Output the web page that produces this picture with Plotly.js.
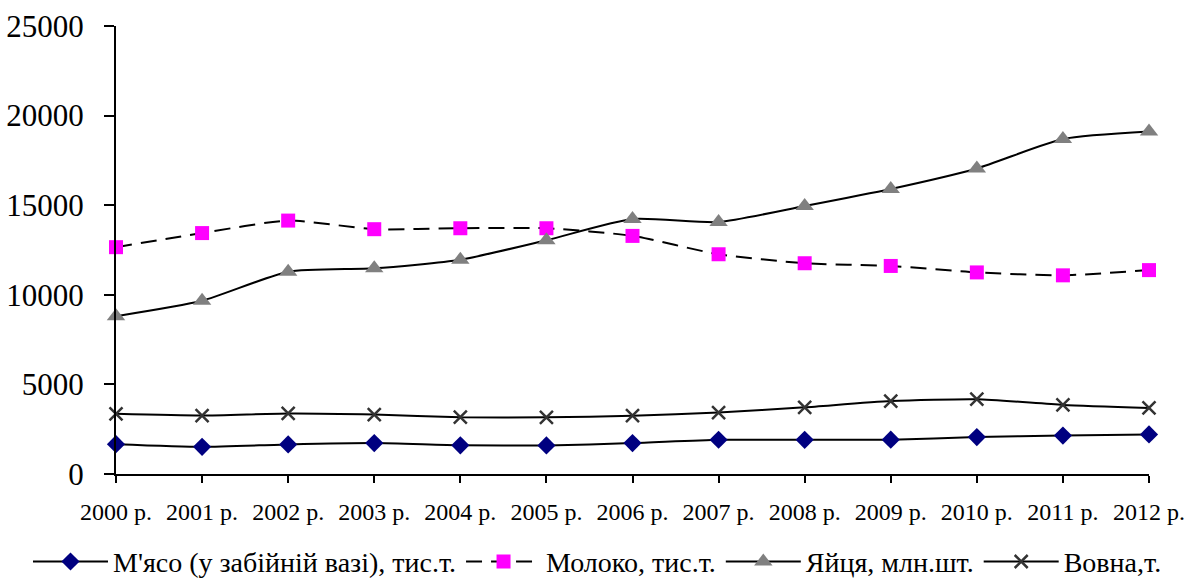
<!DOCTYPE html>
<html>
<head>
<meta charset="utf-8">
<script src="https://cdn.plot.ly/plotly-3.0.1.min.js"></script>
<style>
html,body{margin:0;padding:0;background:#fff;}
#chart{width:1186px;height:579px;}
</style>
</head>
<body>
<div id="chart"></div>
<script>
const years = ["2000 р.","2001 р.","2002 р.","2003 р.","2004 р.","2005 р.","2006 р.","2007 р.","2008 р.","2009 р.","2010 р.","2011 р.","2012 р."];
const meat = [1663,1516,1648,1725,1600,1597,1723,1912,1906,1917,2059,2144,2210];
const milk = [12658,13444,14142,13661,13714,13714,13287,12262,11761,11610,11249,11086,11378];
const eggs = [8809,9667,11286,11477,11956,13046,14229,14063,14956,15907,17052,18689,19110];
const wool = [3357,3263,3377,3317,3173,3160,3255,3428,3723,4067,4172,3856,3690];
const names = ["М'ясо (у забійній вазі), тис.т.","Молоко, тис.т.","Яйця, млн.шт.","Вовна,т."];

const font = "Liberation Serif";
const base = {x: years, type: 'scatter', mode: 'lines+markers', cliponaxis: false};

const traces = [
  Object.assign({}, base, {y: meat, name: names[0],
    line: {color: '#000000', width: 2, shape: 'spline', smoothing: 0.6},
    marker: {symbol: 'diamond', color: '#000080', size: 14}}),
  Object.assign({}, base, {y: milk, name: names[1],
    line: {color: '#000000', width: 2, shape: 'spline', smoothing: 0.6, dash: '16px,9px'},
    marker: {symbol: 'square', color: '#FF00FF', size: 14}}),
  Object.assign({}, base, {y: eggs, name: names[2],
    line: {color: '#000000', width: 2, shape: 'spline', smoothing: 0.6},
    marker: {symbol: 'triangle-up', color: '#808080', size: 16}}),
  Object.assign({}, base, {y: wool, name: names[3],
    line: {color: '#000000', width: 2, shape: 'spline', smoothing: 0.6},
    marker: {symbol: 'x-thin-open', color: '#333333', size: 13, line: {color: '#333333', width: 2.5}}})
];

const layout = {
  width: 1186, height: 579,
  margin: {l: 116, r: 37, t: 26, b: 105, autoexpand: false},
  paper_bgcolor: '#ffffff', plot_bgcolor: '#ffffff',
  font: {family: font, color: '#000000'},
  showlegend: true,
  legend: {orientation: 'h', xref: 'paper', yref: 'paper', x: -0.0852, xanchor: 'left',
    y: -0.196, yanchor: 'middle', font: {family: font, size: 28, color: '#000'},
    itemwidth: 75, tracegroupgap: 0, bgcolor: 'rgba(0,0,0,0)'},
  xaxis: {type: 'category', range: [0, 12], showgrid: false, zeroline: false,
    showline: true, linecolor: '#000', linewidth: 2,
    ticks: 'outside', ticklen: 7, tickwidth: 2, tickcolor: '#000',
    tickfont: {family: font, size: 24, color: '#000'}, ticklabelstandoff: 8, fixedrange: true},
  yaxis: {range: [0, 25000], dtick: 5000, tickformat: 'd', showgrid: false, zeroline: false,
    showline: true, linecolor: '#000', linewidth: 2,
    ticks: 'outside', ticklen: 10, tickwidth: 2, tickcolor: '#000',
    tickfont: {family: font, size: 31, color: '#000'}, ticklabelstandoff: 14, fixedrange: true}
};

Plotly.newPlot('chart', traces, layout, {displayModeBar: false, staticPlot: true});
</script>
</body>
</html>
